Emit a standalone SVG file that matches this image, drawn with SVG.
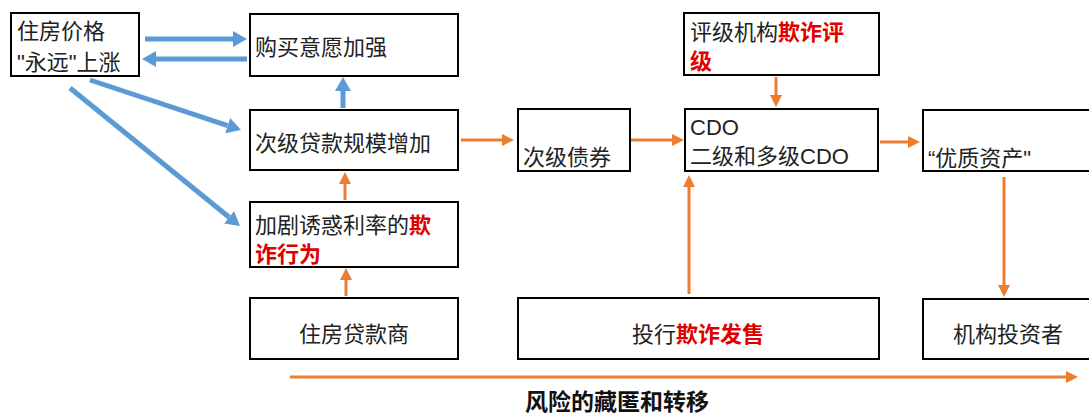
<svg xmlns="http://www.w3.org/2000/svg" width="1089" height="414" viewBox="0 0 1089 414">
<style>
.box{fill:#fff;stroke:#000;stroke-width:2}
.t{font-family:"Liberation Sans","Noto Sans CJK SC",sans-serif;font-size:22px;fill:#222}
.r{fill:#e00000;font-weight:bold}
.b{stroke:#5B9BD5;stroke-width:5;fill:none;marker-end:url(#ab)}
.o{stroke:#ED7D31;stroke-width:3;fill:none;marker-end:url(#ao)}
</style>
<defs>
<marker id="ab" markerUnits="userSpaceOnUse" viewBox="0 0 14 16" refX="0" refY="8" markerWidth="14" markerHeight="16" orient="auto"><path d="M0,0 L14,8 L0,16 z" fill="#5B9BD5"/></marker>
<marker id="ao" markerUnits="userSpaceOnUse" viewBox="0 0 12 12" refX="0" refY="6" markerWidth="12" markerHeight="12" orient="auto"><path d="M0,0 L12,6 L0,12 z" fill="#ED7D31"/></marker>
</defs>
<rect width="1089" height="414" fill="#fff"/>
<g id="connectors">
<line class="b" x1="145" y1="39" x2="233" y2="39"/>
<line class="b" x1="247" y1="59" x2="156" y2="59"/>
<line class="b" x1="90" y1="80" x2="227.7" y2="125.6"/>
<line class="b" x1="70" y1="88" x2="229.1" y2="217.2"/>
<line class="b" x1="343" y1="108" x2="343" y2="91"/>
<line class="o" x1="461" y1="140" x2="502" y2="140"/>
<line class="o" x1="631" y1="140" x2="672" y2="140"/>
<line class="o" x1="880" y1="142" x2="908" y2="142"/>
<line class="o" x1="776" y1="77" x2="776" y2="95"/>
<line class="o" x1="1004" y1="177" x2="1004" y2="285"/>
<line class="o" x1="689" y1="294" x2="689" y2="187"/>
<line class="o" x1="345" y1="200" x2="345" y2="184"/>
<line class="o" x1="346" y1="296" x2="346" y2="280"/>
<line class="o" x1="290" y1="377" x2="1066" y2="377"/>
</g>
<g id="house-price"><rect class="box" x="11" y="13" width="128" height="63"/><text class="t" x="17" y="39">住房价格</text><text class="t" x="17" y="70">"永远"上涨</text></g>
<g id="buy"><rect class="box" x="250" y="14" width="208" height="62"/><text class="t" x="255" y="55">购买意愿加强</text></g>
<g id="subloan"><rect class="box" x="250" y="110" width="208" height="60"/><text class="t" x="255" y="151">次级贷款规模增加</text></g>
<g id="fraud"><rect class="box" x="250" y="202" width="208" height="65"/><text class="t" x="255" y="233">加剧诱惑利率的<tspan class="r">欺</tspan></text><text class="t r" x="255" y="262">诈行为</text></g>
<g id="lender"><rect class="box" x="250" y="298" width="208" height="61"/><text class="t" x="354" y="342" text-anchor="middle">住房贷款商</text></g>
<g id="bond"><rect class="box" x="518" y="109" width="112" height="62"/><text class="t" x="523" y="165">次级债券</text></g>
<g id="cdo"><rect class="box" x="685" y="109" width="193" height="62"/><text class="t" x="690" y="135">CDO</text><text class="t" x="690" y="164">二级和多级CDO</text></g>
<g id="rating"><rect class="box" x="684" y="13" width="195" height="62"/><text class="t" x="690" y="40">评级机构<tspan class="r">欺诈评</tspan></text><text class="t r" x="690" y="69">级</text></g>
<g id="quality"><rect class="box" x="923" y="110" width="172" height="61"/><text class="t" x="928" y="166">“优质资产"</text></g>
<g id="bank"><rect class="box" x="518" y="298" width="361" height="61"/><text class="t" x="698" y="342" text-anchor="middle">投行<tspan class="r">欺诈发售</tspan></text></g>
<g id="investor"><rect class="box" x="923" y="299" width="172" height="60"/><text class="t" x="953" y="342">机构投资者</text></g>
<g id="label"><text class="t" x="525" y="410" style="font-weight:bold;font-size:23px;fill:#111">风险的藏匿和转移</text></g>
</svg>
